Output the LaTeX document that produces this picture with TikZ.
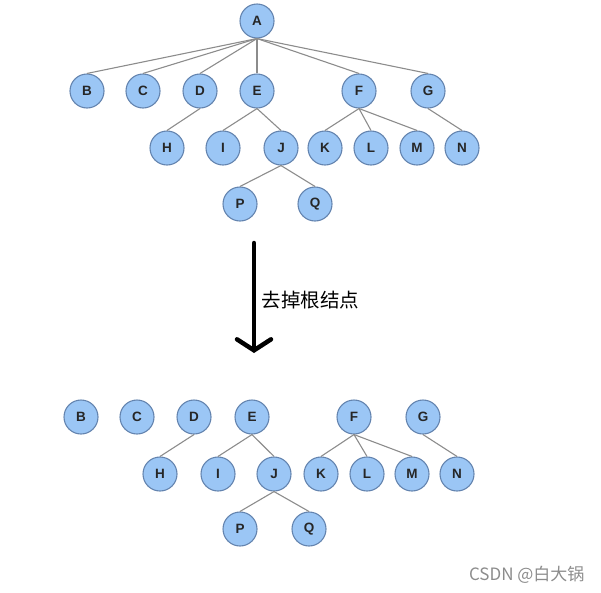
\documentclass[tikz,border=0pt]{standalone}
\usepackage{fontspec}
\setmainfont{Liberation Sans}
\newfontfamily\cjkfont{Noto Sans CJK SC}
\usepackage{xcolor}
\usetikzlibrary{arrows.meta,positioning}
\definecolor{nodefill}{RGB}{155,198,245}
\definecolor{nodeline}{RGB}{100,132,175}
\definecolor{edgegray}{RGB}{140,140,140}

\begin{document}
\begin{tikzpicture}[
    x=1pt, y=-1pt,
    vertex/.style={
        circle,
        draw=nodeline,
        line width=1.1pt,
        fill=nodefill,
        minimum size=34pt,
        inner sep=0pt,
        font=\fontsize{13.5}{13.5}\selectfont\bfseries,
        text=black!85
    },
    edge/.style={
        draw=edgegray,
        line width=1.1pt
    },
    bigarrow/.style={
        -{Straight Barb[length=11pt,width=34pt,line cap=round]},
        line width=4.5pt,
        line cap=round
    }
]
\useasboundingbox (0,0) rectangle (601,592);

% Original tree
\node[vertex] (A) at (257,21) {A};
\node[vertex] (B) at (87,91) {B};
\node[vertex] (C) at (143,91) {C};
\node[vertex] (D) at (200,91) {D};
\node[vertex] (E) at (257,91) {E};
\node[vertex] (F) at (359,91) {F};
\node[vertex] (G) at (428,91) {G};
\node[vertex] (H) at (167,148) {H};
\node[vertex] (I) at (223,148) {I};
\node[vertex] (J) at (281,148) {J};
\node[vertex] (K) at (325,148) {K};
\node[vertex] (L) at (371,148) {L};
\node[vertex] (M) at (417,148) {M};
\node[vertex] (N) at (462,148) {N};
\node[vertex] (P) at (240,204) {P};
\node[vertex] (Q) at (315,204) {Q};

\foreach \c in {B,C,D,E,F,G}
    \draw[edge] (A.south) -- (\c.north);
\draw[edge] (D.south) -- (H.north);
\draw[edge] (E.south) -- (I.north);
\draw[edge] (E.south) -- (J.north);
\foreach \c in {K,L,M}
    \draw[edge] (F.south) -- (\c.north);
\draw[edge] (G.south) -- (N.north);
\draw[edge] (J.south) -- (P.north);
\draw[edge] (J.south) -- (Q.north);

% Remove the root
\coordinate (arrtop) at (254,243);
\coordinate (arrbot) at (254,353);
\draw[bigarrow] (arrtop) -- (arrbot);
\node[font=\cjkfont\fontsize{19.5}{19.5}\selectfont, anchor=west] (lbl) at (258,300) {去掉根结点};

% Resulting forest
\node[vertex] (B2) at (81,417) {B};
\node[vertex] (C2) at (137,417) {C};
\node[vertex] (D2) at (194,417) {D};
\node[vertex] (E2) at (252,417) {E};
\node[vertex] (F2) at (354,417) {F};
\node[vertex] (G2) at (423,417) {G};
\node[vertex] (H2) at (160,474) {H};
\node[vertex] (I2) at (218,474) {I};
\node[vertex] (J2) at (274,474) {J};
\node[vertex] (K2) at (321,474) {K};
\node[vertex] (L2) at (367,474) {L};
\node[vertex] (M2) at (412,474) {M};
\node[vertex] (N2) at (457,474) {N};
\node[vertex] (P2) at (240,529) {P};
\node[vertex] (Q2) at (309,529) {Q};

\draw[edge] (D2.south) -- (H2.north);
\draw[edge] (E2.south) -- (I2.north);
\draw[edge] (E2.south) -- (J2.north);
\foreach \c in {K2,L2,M2}
    \draw[edge] (F2.south) -- (\c.north);
\draw[edge] (G2.south) -- (N2.north);
\draw[edge] (J2.south) -- (P2.north);
\draw[edge] (J2.south) -- (Q2.north);

% Watermark
\node[font=\cjkfont\fontsize{17}{17}\selectfont, text=black!45, anchor=east] (mark) at (588,575) {CSDN @白大锅};
\end{tikzpicture}
\end{document}
